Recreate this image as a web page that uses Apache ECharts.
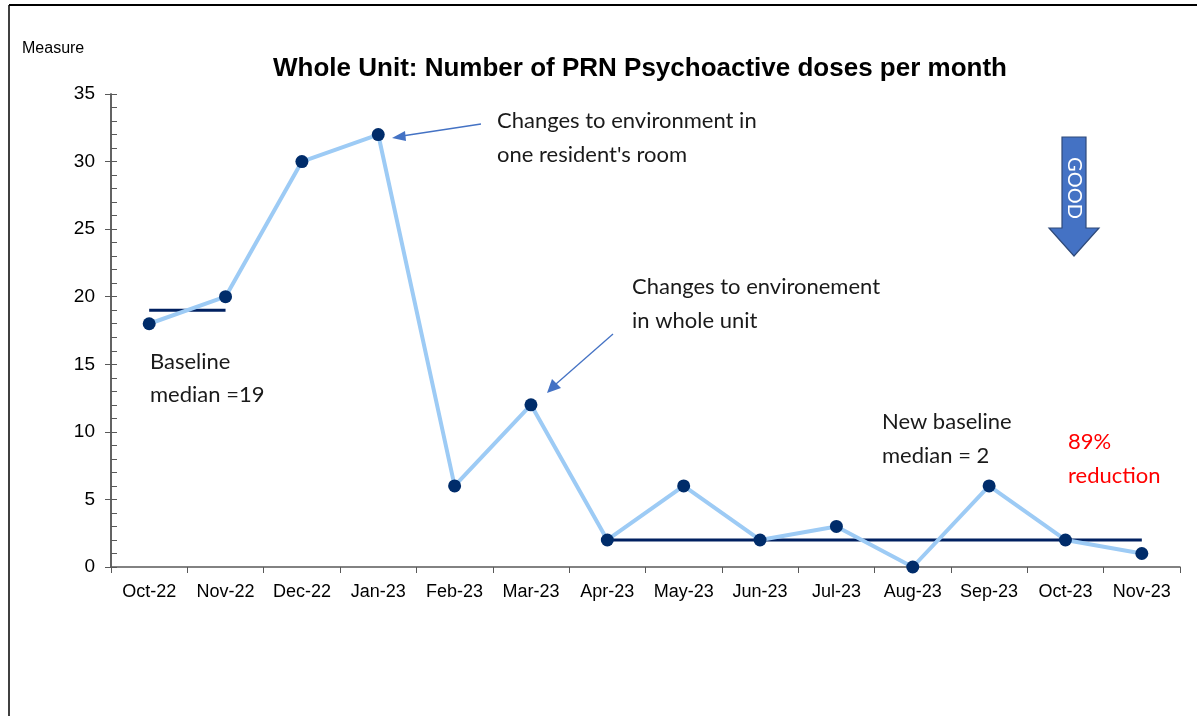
<!DOCTYPE html>
<html>
<head>
<meta charset="utf-8">
<style>
  html, body { margin: 0; padding: 0; background: #fff; }
  #chart { width: 1197px; height: 716px; }
</style>
<script src="https://cdn.jsdelivr.net/npm/echarts@6/dist/echarts.min.js"></script>
</head>
<body>
<div id="chart"></div>
<script>
// months + doses
var months = ['Oct-22', 'Nov-22', 'Dec-22', 'Jan-23', 'Feb-23', 'Mar-23', 'Apr-23',
              'May-23', 'Jun-23', 'Jul-23', 'Aug-23', 'Sep-23', 'Oct-23', 'Nov-23'];
var doses = [18, 20, 30, 32, 6, 12, 2, 6, 2, 3, 0, 6, 2, 1];
// median lines (null = not drawn)
var baselineMedian = [19, 19, null, null, null, null, null, null, null, null, null, null, null, null];
var newMedian = [null, null, null, null, null, null, 2, 2, 2, 2, 2, 2, 2, 2];

var myChart = echarts.init(document.getElementById('chart'));
var noteFont = 'Lato, "Open Sans", sans-serif';
var axisFont = '"Liberation Sans", Arial, sans-serif';

var option = {
    backgroundColor: '#fff',
    animation: false,
    title: {
        text: 'Whole Unit: Number of PRN Psychoactive doses per month',
        left: 635,
        top: 51,
        textAlign: 'center',
        textStyle: {
            fontFamily: axisFont,
            fontSize: 26,
            fontWeight: 'bold',
            color: '#000'
        }
    },
    grid: { left: 111, right: 17, top: 94, bottom: 149 },
    xAxis: {
        type: 'category',
        data: months,
        boundaryGap: true,
        axisLine: { lineStyle: { color: '#595959', width: 1.5 } },
        axisTick: { show: true, length: 6, lineStyle: { color: '#595959' } },
        axisLabel: {
            color: '#000',
            fontFamily: axisFont,
            fontSize: 18,
            margin: 16,
            interval: 0
        },
        splitLine: { show: false }
    },
    yAxis: [
        {
            type: 'value',
            min: 0,
            max: 35,
            interval: 5,
            position: 'left',
            axisLine: { show: true, lineStyle: { color: '#595959', width: 1.5 } },
            axisTick: { show: true, length: 6, lineStyle: { color: '#595959' } },
            axisLabel: {
                color: '#000',
                fontFamily: axisFont,
                fontSize: 19,
                margin: 16
            },
            splitLine: { show: false }
        },
        {
            // second copy only for ticks pointing inside + minor ticks
            type: 'value',
            min: 0,
            max: 35,
            interval: 5,
            position: 'left',
            offset: 0,
            axisLine: { show: true, lineStyle: { color: '#595959', width: 1.5 } },
            axisTick: { show: true, inside: true, length: 6, lineStyle: { color: '#595959' } },
            minorTick: { show: true, splitNumber: 5, length: 6, lineStyle: { color: '#595959' } },
            axisLabel: { show: false },
            splitLine: { show: false }
        }
    ],
    series: [
        {
            name: 'Baseline median',
            type: 'line',
            data: baselineMedian,
            symbol: 'none',
            z: 3,
            lineStyle: { color: '#002060', width: 3 }
        },
        {
            name: 'New baseline median',
            type: 'line',
            data: newMedian,
            symbol: 'none',
            z: 3,
            lineStyle: { color: '#002060', width: 3 }
        },
        {
            name: 'Doses',
            type: 'line',
            data: doses,
            symbol: 'circle',
            symbolSize: 13,
            z: 4,
            lineStyle: { color: '#9DCBF5', width: 4 },
            itemStyle: { color: '#002C6A' }
        }
    ],
    graphic: [
        // frame
        { type: 'line', shape: { x1: 9, y1: 5, x2: 1197, y2: 5 }, style: { stroke: '#000', lineWidth: 2 } },
        { type: 'line', shape: { x1: 9, y1: 5, x2: 9, y2: 716 }, style: { stroke: '#000', lineWidth: 1.5 } },
        {
            type: 'text', left: 22, top: 41,
            style: { text: 'Measure', font: '16px ' + axisFont, fill: '#000' }
        },
        {
            type: 'text', left: 150, top: 345,
            style: { text: 'Baseline\nmedian =19', font: '22px ' + noteFont, lineHeight: 33, fill: '#1a1a1a' }
        },
        {
            type: 'text', left: 497, top: 104,
            style: { text: "Changes to environment in\none resident's room", font: '22px ' + noteFont, lineHeight: 34, fill: '#1a1a1a' }
        },
        {
            type: 'text', left: 632, top: 270,
            style: { text: 'Changes to environement\nin whole unit', font: '22px ' + noteFont, lineHeight: 34, fill: '#1a1a1a' }
        },
        {
            type: 'text', left: 882, top: 405,
            style: { text: 'New baseline\nmedian = 2', font: '22px ' + noteFont, lineHeight: 34, fill: '#1a1a1a' }
        },
        {
            type: 'text', left: 1068, top: 425,
            style: { text: '89%\nreduction', font: '22px ' + noteFont, lineHeight: 34, fill: '#ff0000' }
        },
        // arrow to Jan-23
        { type: 'line', shape: { x1: 481, y1: 124, x2: 402, y2: 136 }, style: { stroke: '#4472C4', lineWidth: 1.3 } },
        { type: 'polygon', shape: { points: [[392, 138], [405, 131], [406, 141]] }, style: { fill: '#4472C4' } },
        // arrow to Mar-23
        { type: 'line', shape: { x1: 613, y1: 334, x2: 556, y2: 384 }, style: { stroke: '#4472C4', lineWidth: 1.3 } },
        { type: 'polygon', shape: { points: [[547, 393], [552, 379], [561, 388]] }, style: { fill: '#4472C4' } },
        // GOOD arrow
        {
            type: 'polygon',
            shape: { points: [[1062, 137], [1086, 137], [1086, 228], [1099, 228], [1074, 256], [1049, 228], [1062, 228]] },
            style: { fill: '#4472C4', stroke: '#2F4A7A', lineWidth: 1.2 }
        },
        {
            type: 'text', x: 1074, y: 188, rotation: -Math.PI / 2,
            style: {
                text: 'GOOD', font: '20px ' + noteFont, fill: '#fff',
                align: 'center', verticalAlign: 'middle'
            }
        }
    ]
};

if (option && typeof option === 'object') {
    myChart.setOption(option, true);
}
</script>
</body>
</html>
